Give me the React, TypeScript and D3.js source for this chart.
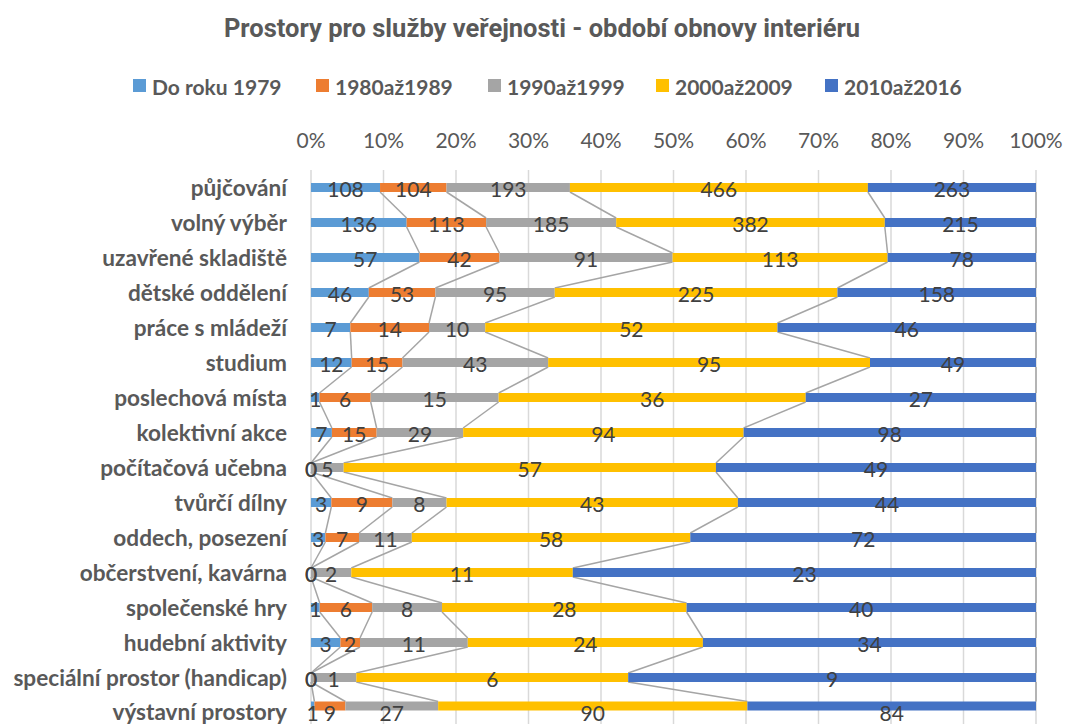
import React from "react";
import * as d3 from "d3";

const categories = [
  "půjčování",
  "volný výběr",
  "uzavřené skladiště",
  "dětské oddělení",
  "práce s mládeží",
  "studium",
  "poslechová místa",
  "kolektivní akce",
  "počítačová učebna",
  "tvůrčí dílny",
  "oddech, posezení",
  "občerstvení, kavárna",
  "společenské hry",
  "hudební aktivity",
  "speciální prostor (handicap)",
  "výstavní prostory",
];

const seriesNames = ["Do roku 1979", "1980až1989", "1990až1999", "2000až2009", "2010až2016"];
const seriesColors = ["#5B9BD5", "#ED7D31", "#A5A5A5", "#FFC000", "#4472C4"];

const do1979 = [108, 136, 57, 46, 7, 12, 1, 7, 0, 3, 3, 0, 1, 3, 0, 1];
const s1980 = [104, 113, 42, 53, 14, 15, 6, 15, 0, 9, 7, 0, 6, 2, 0, 9];
const s1990 = [193, 185, 91, 95, 10, 43, 15, 29, 5, 8, 11, 2, 8, 11, 1, 27];
const s2000 = [466, 382, 113, 225, 52, 95, 36, 94, 57, 43, 58, 11, 28, 24, 6, 90];
const s2010 = [263, 215, 78, 158, 46, 49, 27, 98, 49, 44, 72, 23, 40, 34, 9, 84];

const seriesValues = [do1979, s1980, s1990, s2000, s2010];
const tickValues = [0, 0.1, 0.2, 0.3, 0.4, 0.5, 0.6, 0.7, 0.8, 0.9, 1];

const W = 1066;
const H = 724;
const plotLeft = 311;
const plotRight = 1036;
const plotTop = 170;
const rowStep = 35;
const barH = 9;

const CAL = "Lato, 'Open Sans', sans-serif";

export default function App() {
  const x = d3.scaleLinear().domain([0, 1]).range([plotLeft, plotRight]);
  const y = d3
    .scaleBand<string>()
    .domain(categories)
    .range([plotTop, plotTop + rowStep * categories.length])
    .paddingInner(0)
    .paddingOuter(0);

  const last = categories.length - 1;
  const rows = categories.map((c, i) => {
    const vals = seriesValues.map((s) => s[i]);
    const total = d3.sum(vals);
    let acc = 0;
    const segs = vals.map((v, k) => {
      const x0 = acc / total;
      acc += v;
      const x1 = acc / total;
      return { v, k, x0, x1 };
    });
    const cy = (y(c) as number) + y.bandwidth() / 2;
    // the bottom row is squeezed against the picture's lower edge in the reference
    const barCy = i === last ? cy - 6.5 : cy;
    const labelCy = i === last ? cy - 1.5 : cy;
    return { c, segs, cy, barCy, labelCy };
  });

  const fmt = d3.format(".0%");

  const legendX = [133, 316, 488, 656, 825];

  return (
    <div style={{ position: "absolute", left: 0, top: 0 }}>
      <svg width={W} height={H} style={{ display: "block", background: "#fff" }}>
        <text
          x={542}
          y={37}
          textAnchor="middle"
          fontFamily="'Liberation Sans Narrow', 'Arial Narrow', 'Roboto', sans-serif"
          fontWeight="bold"
          fontSize={25.5}
          fill="#595959"
        >
          Prostory pro služby veřejnosti - období obnovy interiéru
        </text>

        {seriesNames.map((n, k) => (
          <g key={n}>
            <rect x={legendX[k]} y={79} width={13} height={13} fill={seriesColors[k]} />
            <text
              x={legendX[k] + 19}
              y={86}
              dominantBaseline="central"
              fontFamily={CAL}
              fontWeight="bold"
              fontSize={21}
              fill="#595959"
            >
              {n}
            </text>
          </g>
        ))}

        {tickValues.map((t) => (
          <g key={t}>
            <text
              x={x(t)}
              y={139}
              textAnchor="middle"
              dominantBaseline="central"
              fontFamily={CAL}
              fontSize={21}
              fill="#595959"
            >
              {fmt(t)}
            </text>
            <line x1={x(t)} x2={x(t)} y1={plotTop} y2={H + 10} stroke="#D9D9D9" strokeWidth={1.5} />
          </g>
        ))}

        {rows.slice(0, -1).map((r, i) => {
          const n = rows[i + 1];
          return r.segs.map((s, k) => (
            <line
              key={`sl-${i}-${k}`}
              x1={x(s.x1)}
              y1={r.barCy + barH / 2}
              x2={x(n.segs[k].x1)}
              y2={n.barCy - barH / 2}
              stroke="#A5A5A5"
              strokeWidth={1.5}
            />
          ));
        })}

        {rows.map((r) => (
          <g key={r.c}>
            <text
              x={287}
              y={r.labelCy}
              textAnchor="end"
              dominantBaseline="central"
              fontFamily={CAL}
              fontWeight="bold"
              fontSize={22.6}
              fill="#595959"
            >
              {r.c}
            </text>
            {r.segs.map((s) => (
              <rect
                key={s.k}
                x={x(s.x0)}
                y={r.barCy - barH / 2}
                width={x(s.x1) - x(s.x0)}
                height={barH}
                fill={seriesColors[s.k]}
              />
            ))}
            {r.segs.map((s) => (
              <text
                key={`l${s.k}`}
                x={(x(s.x0) + x(s.x1)) / 2}
                y={r.labelCy + 1}
                textAnchor="middle"
                dominantBaseline="central"
                fontFamily={CAL}
                fontSize={21}
                fill="#404040"
              >
                {s.v}
              </text>
            ))}
          </g>
        ))}
      </svg>
    </div>
  );
}
